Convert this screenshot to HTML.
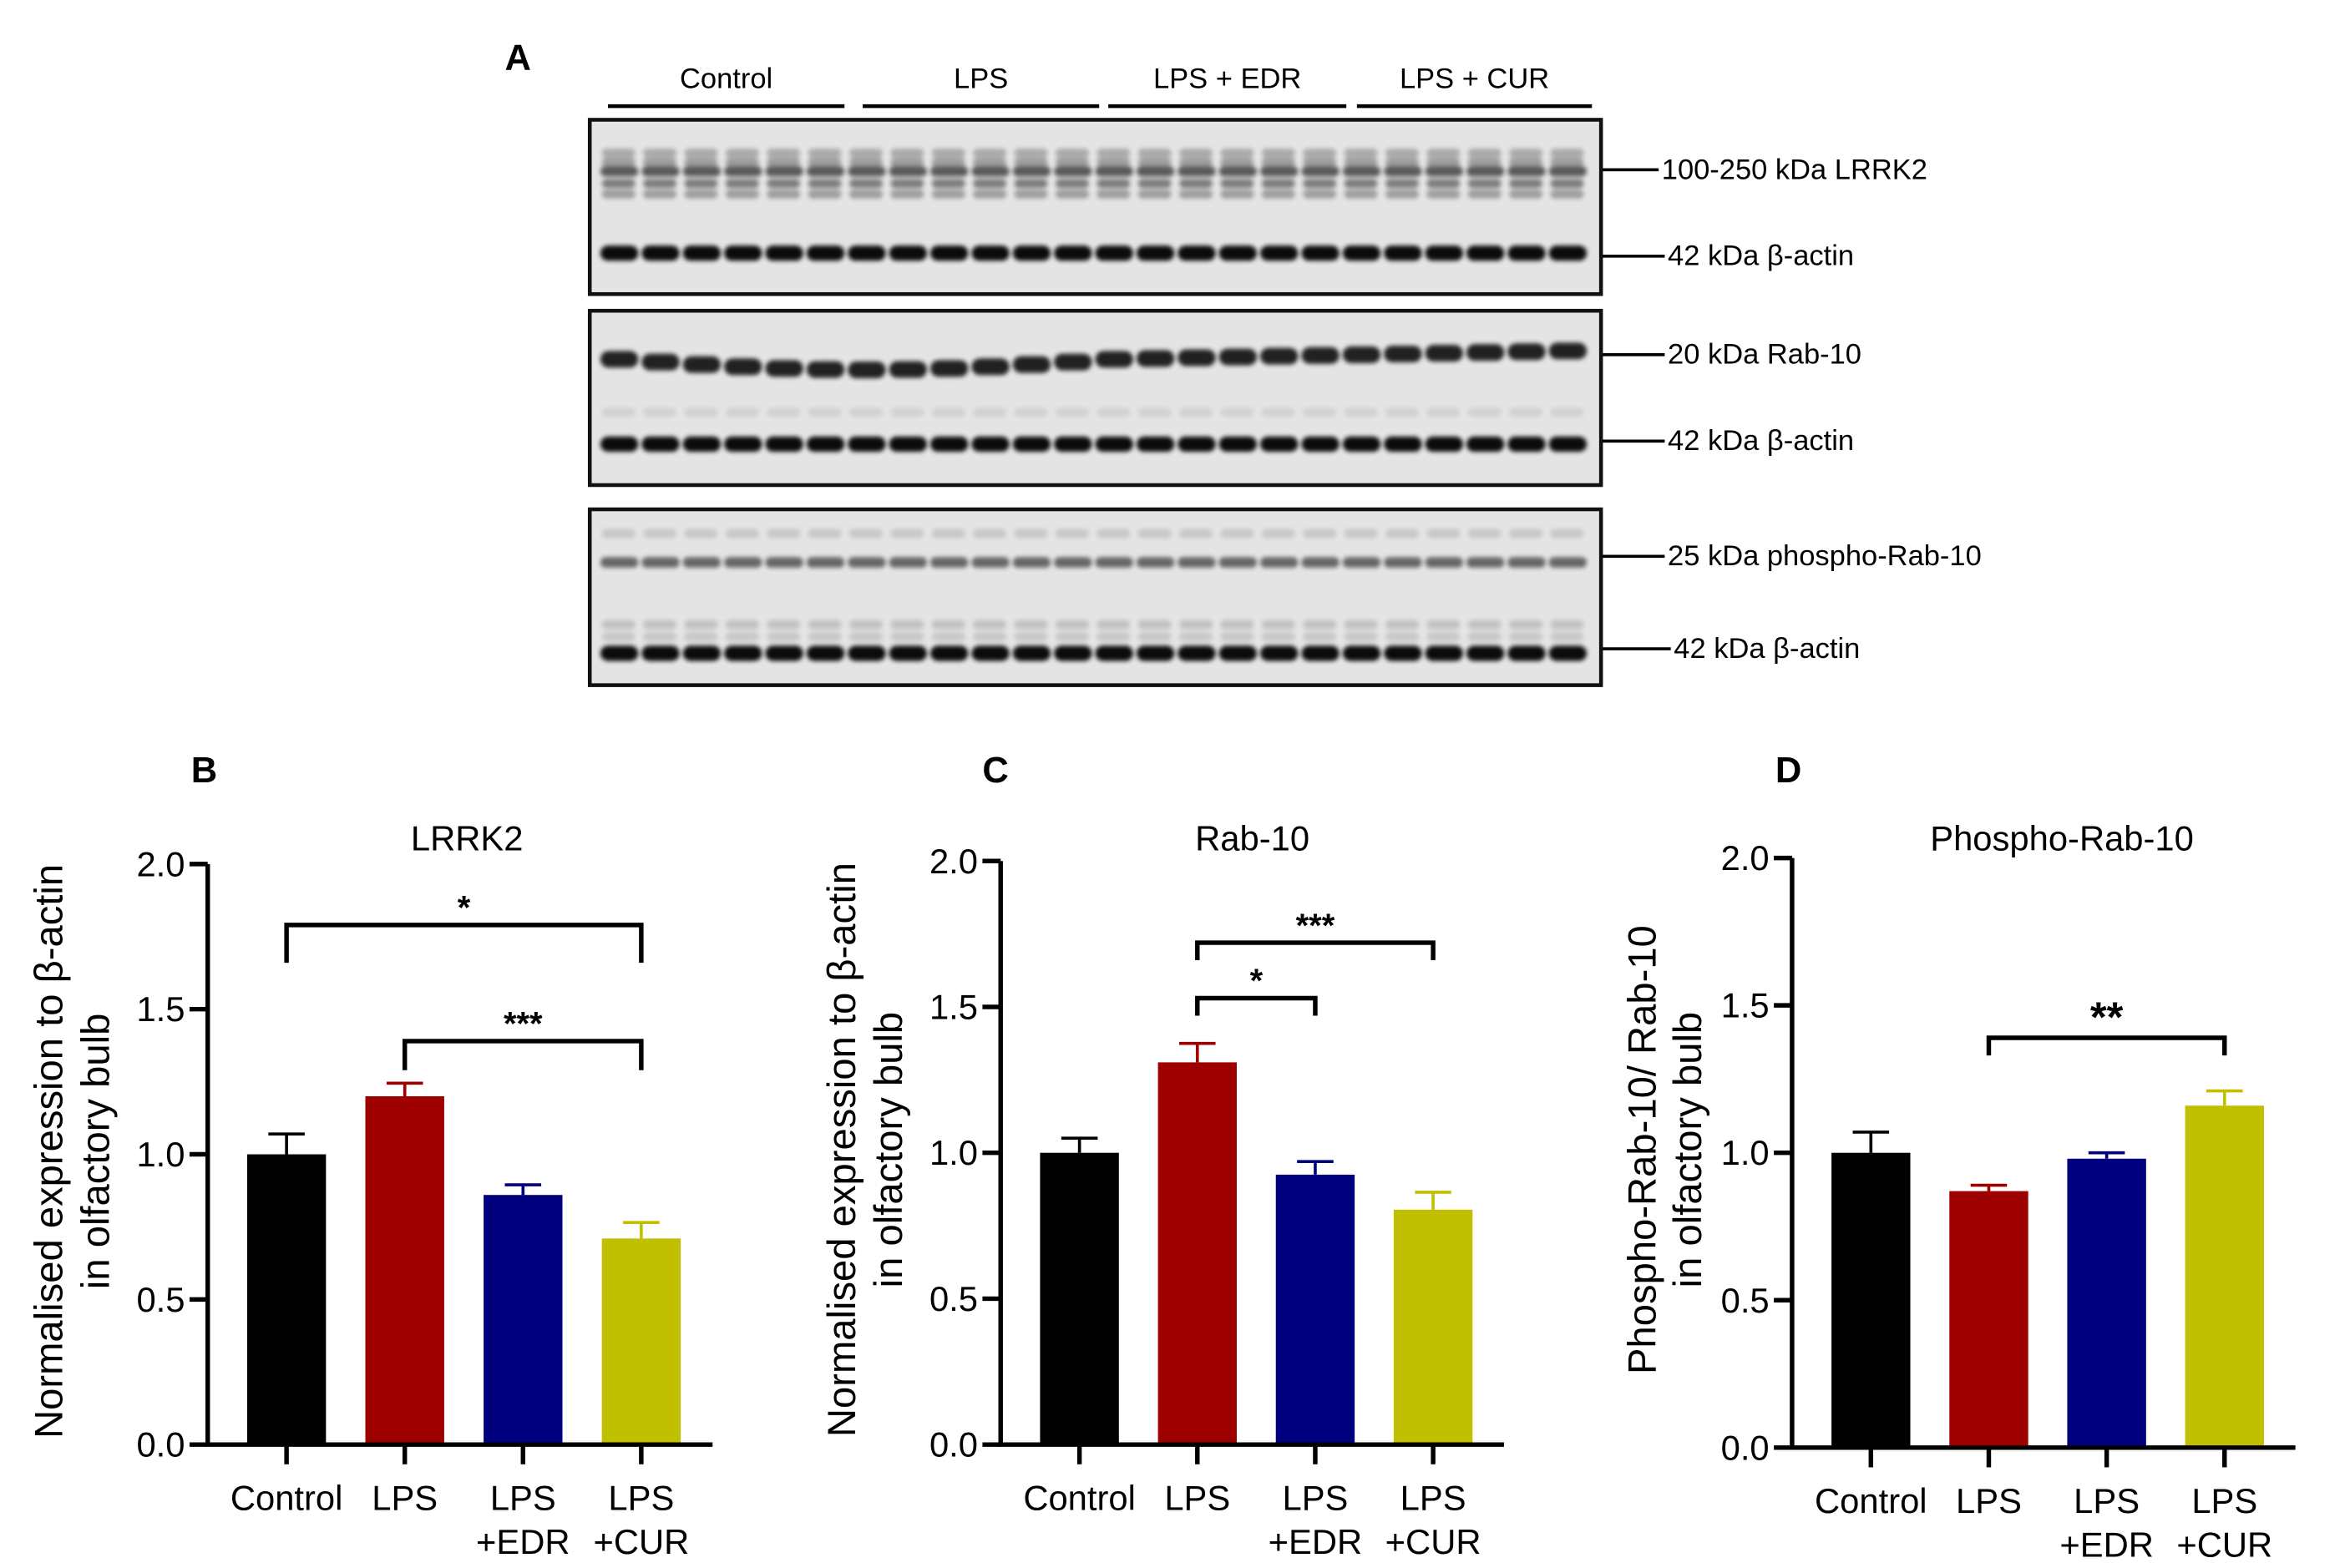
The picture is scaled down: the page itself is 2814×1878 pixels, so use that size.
<!DOCTYPE html>
<html><head><meta charset="utf-8"><style>
html,body{margin:0;padding:0;background:#fff;}
svg{display:block;font-family:"Liberation Sans",Arial,sans-serif;}
</style></head><body>
<svg id="fig" width="2814" height="1878" viewBox="0 0 1550 1034.4" xmlns="http://www.w3.org/2000/svg">
<defs>
<filter id="blur2" x="-20%" y="-50%" width="140%" height="200%"><feGaussianBlur stdDeviation="1.4"/></filter>
</defs>
<g id="panelA"></g>
<g id="charts"></g>
</svg>
<script>
// ---------- chart data ----------
const categories = ["Control", "LPS", "LPS\n+EDR", "LPS\n+CUR"];
const lrrk2Values = [1.00, 1.20, 0.86, 0.71];
const lrrk2Errors = [0.07, 0.045, 0.035, 0.055];
const rab10Values = [1.00, 1.31, 0.925, 0.805];
const rab10Errors = [0.05, 0.065, 0.045, 0.06];
const phosphoValues = [1.00, 0.87, 0.98, 1.16];
const phosphoErrors = [0.07, 0.02, 0.02, 0.05];
const yTicks = [0.0, 0.5, 1.0, 1.5, 2.0];
const yTickLabels = ["0.0", "0.5", "1.0", "1.5", "2.0"];
const barColors = ["#000000", "#9e0000", "#00007e", "#c0c000"];

const NS = "http://www.w3.org/2000/svg";
function mk(tag, attrs, parent, text) {
  const e = document.createElementNS(NS, tag);
  for (const k in attrs) e.setAttribute(k, attrs[k]);
  if (text !== undefined) e.textContent = text;
  parent.appendChild(e);
  return e;
}

// ---------- Panel A: blots ----------
const A = document.getElementById("panelA");
let t = mk("text", {x: 333, y: 46, "font-size": 24, "font-weight": "bold"}, A, "A");


const groups = ["Control", "LPS", "LPS + EDR", "LPS + CUR"];
const groupX = [[401, 557], [569, 725], [731, 888], [895, 1050]];
groups.forEach((g, i) => {
  const gg = mk("g", {}, A);
  
  
  mk("text", {x: (groupX[i][0] + groupX[i][1]) / 2, y: 58, "font-size": 19, "text-anchor": "middle"}, gg, g);
  mk("line", {x1: groupX[i][0], x2: groupX[i][1], y1: 70, y2: 70, stroke: "#000", "stroke-width": 2.5}, gg);
});
const blots = [
  {y: 79, h: 115, bands: [{y: 113, h: 7, o: 0.6, label: "100-250 kDa LRRK2"}, {y: 167, h: 10, o: 0.95, label: "42 kDa β-actin"}], extra: [[101, 0.25], [107, 0.3], [121, 0.45], [128, 0.3]]},
  {y: 205, h: 115, bands: [{y: 240, h: 11, o: 0.85, label: "20 kDa Rab-10", curve: true}, {y: 293, h: 10, o: 0.95, label: "42 kDa β-actin"}], extra: [[272, 0.08]]},
  {y: 336, h: 116, bands: [{y: 371, h: 7, o: 0.55, label: "25 kDa phospho-Rab-10"}, {y: 431, h: 10, o: 0.95, label: "42 kDa β-actin"}], extra: [[352, 0.12], [412, 0.15], [420, 0.12]]}
];
const labelY = [112, 169, 234, 291, 367, 428];
const labelX = [1096, 1100, 1100, 1100, 1100, 1104];
let li = 0;
blots.forEach((b, bi) => {
  const bg = mk("g", {}, A);
  
  
  mk("rect", {x: 389, y: b.y, width: 667, height: b.h, fill: "#e4e4e4", stroke: "#111", "stroke-width": 2.5}, bg);
  b.extra.forEach(ex => {
    for (let l = 0; l < 24; l++) {
      mk("rect", {x: 397 + l * 27.2, y: ex[0] - 3, width: 22, height: 6, rx: 3, fill: "#000", opacity: ex[1], filter: "url(#blur2)"}, bg);
    }
  });
  b.bands.forEach(bd => {
    for (let l = 0; l < 24; l++) {
      let yy = bd.y;
      if (bd.curve) yy = (l <= 12) ? 237 + 7 * Math.sin(Math.PI * l / 12) : 237 - (l - 12) * 0.5;
      mk("rect", {x: 396 + l * 27.2, y: yy - bd.h / 2, width: 25, height: bd.h, rx: bd.h / 2, fill: "#000", opacity: bd.o, filter: "url(#blur2)"}, bg);
    }
    const ly = labelY[li];
    const lx = labelX[li++];
    mk("line", {x1: 1057, x2: lx - 2, y1: ly, y2: ly, stroke: "#000", "stroke-width": 2}, bg);
    mk("text", {x: lx, y: ly + 6, "font-size": 19}, bg, bd.label);
  });
});

// ---------- bar charts ----------
const C = document.getElementById("charts");
const chartDefs = [
  {name: "lrrk2", letter: "B", lx: 126, title: "LRRK2", tx: 308, ax: 137, ax2: 470, y0: 953, y2: 570, vals: lrrk2Values, errs: lrrk2Errors,
   ytitle: ["Normalised expression to β-actin", "in olfactory bulb"], ytx: [41, 72],
   brackets: [{a: 0, b: 3, y: 1.79, legL: 1.66, legR: 1.66, txt: "*"}, {a: 1, b: 3, y: 1.39, legL: 1.29, legR: 1.29, txt: "***"}]},
  {name: "rab10", letter: "C", lx: 648, title: "Rab-10", tx: 826, ax: 660, ax2: 992, y0: 953, y2: 568, vals: rab10Values, errs: rab10Errors,
   ytitle: ["Normalised expression to β-actin", "in olfactory bulb"], ytx: [564, 595],
   brackets: [{a: 1, b: 3, y: 1.72, legL: 1.66, legR: 1.66, txt: "***"}, {a: 1, b: 2, y: 1.53, legL: 1.47, legR: 1.47, txt: "*"}]},
  {name: "phospho-rab10", letter: "D", lx: 1171, title: "Phospho-Rab-10", tx: 1360, ax: 1182, ax2: 1514, y0: 955, y2: 566, vals: phosphoValues, errs: phosphoErrors,
   ytitle: ["Phospho-Rab-10/ Rab-10", "in olfactory bulb"], ytx: [1092, 1122],
   brackets: [{a: 1, b: 3, y: 1.39, legL: 1.33, legR: 1.33, txt: "**", big: true}]}
];
chartDefs.forEach(cd => {
  const g = mk("g", {}, C);
  
  
  const yS = v => cd.y0 - (v / 2) * (cd.y0 - cd.y2);
  const step = (cd.ax2 - cd.ax) / 4.27;
  const xC = i => cd.ax + 52 + i * step;
  const bw = 52;
  let e = mk("text", {x: cd.lx, y: 516, "font-size": 24, "font-weight": "bold"}, g, cd.letter);
  
  
  e = mk("text", {x: cd.tx, y: 561, "font-size": 23, "text-anchor": "middle"}, g, cd.title);
  
  
  const yt = mk("g", {}, g);
  
  
  cd.ytitle.forEach((s, k) => {
    mk("text", {x: 0, y: 0, "font-size": 26, "text-anchor": "middle", transform: `translate(${cd.ytx[k]},${(cd.y0 + cd.y2) / 2 - 2}) rotate(-90)`}, yt, s);
  });
  // bars
  cd.vals.forEach((v, i) => {
    const cx = xC(i);
    const r = mk("rect", {x: cx - bw / 2, y: yS(v), width: bw, height: yS(0) - yS(v), fill: barColors[i]}, g);
    
    
    const top = v + cd.errs[i];
    const eb = mk("path", {d: `M${cx},${yS(v)}V${yS(top)}M${cx - 12},${yS(top)}H${cx + 12}`, stroke: barColors[i], "stroke-width": 2, fill: "none"}, g);
    
    
  });
  // axes
  const ax = mk("g", {}, g);
  
  
  mk("path", {d: `M${cd.ax},${cd.y2}V${cd.y0}H${cd.ax2}`, stroke: "#000", "stroke-width": 3, fill: "none"}, ax);
  yTicks.forEach((v, k) => {
    mk("text", {x: cd.ax - 15, y: yS(v) + 8, "font-size": 23, "text-anchor": "end"}, ax, yTickLabels[k]);
    mk("line", {x1: cd.ax - 12, x2: cd.ax, y1: yS(v), y2: yS(v), stroke: "#000", "stroke-width": 3}, ax);
  });
  categories.forEach((c, i) => {
    mk("line", {x1: xC(i), x2: xC(i), y1: cd.y0, y2: cd.y0 + 13, stroke: "#000", "stroke-width": 3}, ax);
    c.split("\n").forEach((s, k) => {
      mk("text", {x: xC(i), y: cd.y0 + 43 + k * 29, "font-size": 23, "text-anchor": "middle"}, ax, s);
    });
  });
  // brackets
  cd.brackets.forEach(b => {
    const br = mk("g", {}, g);
    
    
    const x1 = xC(b.a), x2 = xC(b.b);
    mk("path", {d: `M${x1},${yS(b.legL)}V${yS(b.y)}H${x2}V${yS(b.legR)}`, stroke: "#000", "stroke-width": 3, fill: "none"}, br);
    mk("text", {x: (x1 + x2) / 2, y: yS(b.y) - 4, "font-size": b.big ? 28 : 22, "font-weight": "bold", "text-anchor": "middle"}, br, b.txt);
  });
});
</script>
</body></html>
